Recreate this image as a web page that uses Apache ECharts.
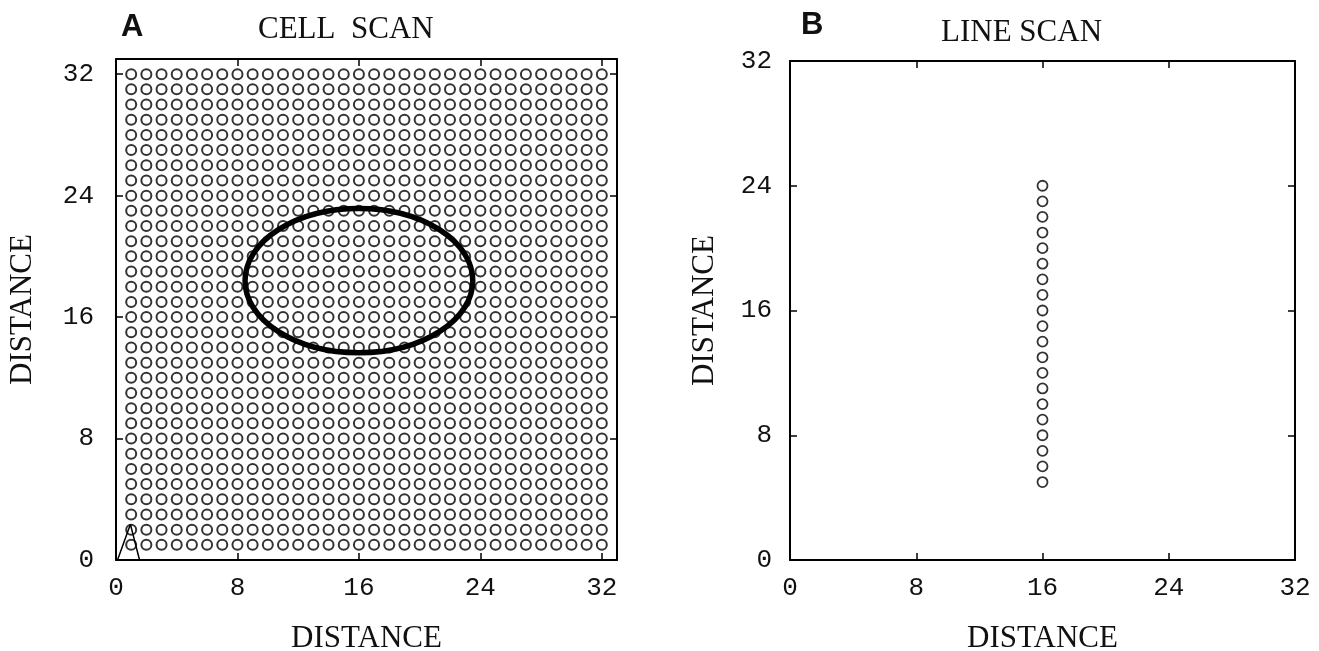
<!DOCTYPE html>
<html>
<head>
<meta charset="utf-8">
<script src="https://cdn.jsdelivr.net/npm/echarts@6/dist/echarts.min.js"></script>
<style>
  html, body { margin: 0; padding: 0; background: #fff; }
  #main { width: 1319px; height: 651px; }
</style>
</head>
<body>
<div id="main"></div>
<script>
// panel A: cell scan grid positions
var cellCols = [1, 2, 3, 4, 5, 6, 7, 8, 9, 10, 11, 12, 13, 14, 15, 16,
                17, 18, 19, 20, 21, 22, 23, 24, 25, 26, 27, 28, 29, 30, 31, 32];
var cellRows = [1, 2, 3, 4, 5, 6, 7, 8, 9, 10, 11, 12, 13, 14, 15, 16,
                17, 18, 19, 20, 21, 22, 23, 24, 25, 26, 27, 28, 29, 30, 31, 32];
// ellipse drawn over the grid: cx, cy, rx, ry
var cellEllipse = [16, 18.4, 7.5, 4.75];
// little trace in the lower left corner of A
var cornerTrace = [[0.1, 0], [0.95, 2.35], [1.55, 0]];

// panel B: line scan
var lineScanX = 16;
var lineScanY = [5, 6, 7, 8, 9, 10, 11, 12, 13, 14, 15, 16, 17, 18, 19, 20, 21, 22, 23, 24];

var tickLabels = [0, 8, 16, 24, 32];

var cellPoints = [];
cellRows.forEach(function(r){
	cellCols.forEach(function(c){ cellPoints.push([c, r]); });
});
var linePoints = lineScanY.map(function(y){ return [lineScanX, y]; });

var serif = '"Liberation Serif", "DejaVu Serif", serif';
var mono = '"Liberation Mono", "DejaVu Sans Mono", monospace';

var labelFmt = function(v){ return tickLabels.indexOf(v) >= 0 ? String(v) : ''; };

var makeAxis = function(grid, pos, max, isX){
	var main = (pos === 'bottom' || pos === 'left');
	var ax = {
		type: 'value', gridIndex: grid, position: pos,
		min: 0, max: max, interval: 8,
		axisLine: {show: true, onZero: false, lineStyle: {color: '#000', width: 2}},
		axisTick: {show: true, inside: true, length: 7, lineStyle: {color: '#000', width: 1.5}},
		splitLine: {show: false},
		axisLabel: {
			show: main, formatter: labelFmt,
			fontFamily: mono, fontSize: 26, color: '#111',
			margin: isX ? 15 : (grid === 0 ? 22 : 18),
			showMaxLabel: true, showMinLabel: true
		}
	};
	if (main) {
		ax.name = 'DISTANCE';
		ax.nameLocation = 'middle';
		ax.nameTextStyle = {fontFamily: serif, fontSize: 31, color: '#111'};
		ax.nameGap = isX ? 63 : (grid === 0 ? 78 : 70);
	}
	return ax;
};

var chart = echarts.init(document.getElementById('main'));
var option = {
	backgroundColor: '#fff',
	animation: false,
	title: [
		{text: 'A', left: 116, top: 7, textStyle: {fontFamily: '"Liberation Sans", sans-serif', fontSize: 31, fontWeight: 'bold', color: '#111'}},
		{text: 'CELL  SCAN', left: 253, top: 9, textStyle: {fontFamily: serif, fontSize: 31, fontWeight: 'normal', color: '#111'}},
		{text: 'B', left: 796, top: 5, textStyle: {fontFamily: '"Liberation Sans", sans-serif', fontSize: 31, fontWeight: 'bold', color: '#111'}},
		{text: 'LINE SCAN', left: 936, top: 12, textStyle: {fontFamily: serif, fontSize: 31, fontWeight: 'normal', color: '#111'}}
	],
	grid: [
		{left: 116, right: 702, top: 59, bottom: 91, containLabel: false, outerBoundsMode: 'none'},
		{left: 790, right: 24, top: 61, bottom: 91, containLabel: false, outerBoundsMode: 'none'}
	],
	xAxis: [
		makeAxis(0, 'bottom', 33, true),
		makeAxis(0, 'top', 33, true),
		makeAxis(1, 'bottom', 32, true),
		makeAxis(1, 'top', 32, true)
	],
	yAxis: [
		makeAxis(0, 'left', 33, false),
		makeAxis(0, 'right', 33, false),
		makeAxis(1, 'left', 32, false),
		makeAxis(1, 'right', 32, false)
	],
	series: [
		{
			type: 'scatter', xAxisIndex: 0, yAxisIndex: 0,
			data: cellPoints, symbol: 'circle', symbolSize: 10,
			itemStyle: {color: '#fff', borderColor: '#000', borderWidth: 2},
			z: 2
		},
		{
			type: 'custom', xAxisIndex: 0, yAxisIndex: 0,
			data: [cellEllipse], z: 5,
			renderItem: function(params, api){
				var c = api.coord([api.value(0), api.value(1)]);
				var s = api.size([api.value(2), api.value(3)]);
				var rx = s[0], ry = s[1];
				var d = 'M ' + (c[0] - rx) + ' ' + c[1] +
					' A ' + rx + ' ' + ry + ' 0 1 0 ' + (c[0] + rx) + ' ' + c[1] +
					' A ' + rx + ' ' + ry + ' 0 1 0 ' + (c[0] - rx) + ' ' + c[1] + ' Z';
				return {
					type: 'path',
					shape: {pathData: d, x: c[0] - rx, y: c[1] - ry, width: 2 * rx, height: 2 * ry, layout: 'cover'},
					style: {fill: 'none', stroke: '#000', lineWidth: 5.5}
				};
			}
		},
		{
			type: 'line', xAxisIndex: 0, yAxisIndex: 0,
			data: cornerTrace, showSymbol: false,
			lineStyle: {color: '#000', width: 1.5}, z: 4
		},
		{
			type: 'scatter', xAxisIndex: 2, yAxisIndex: 2,
			data: linePoints, symbol: 'circle', symbolSize: 10,
			itemStyle: {color: '#fff', borderColor: '#000', borderWidth: 1.8}
		}
	]
};
chart.setOption(option, true);
</script>
</body>
</html>
